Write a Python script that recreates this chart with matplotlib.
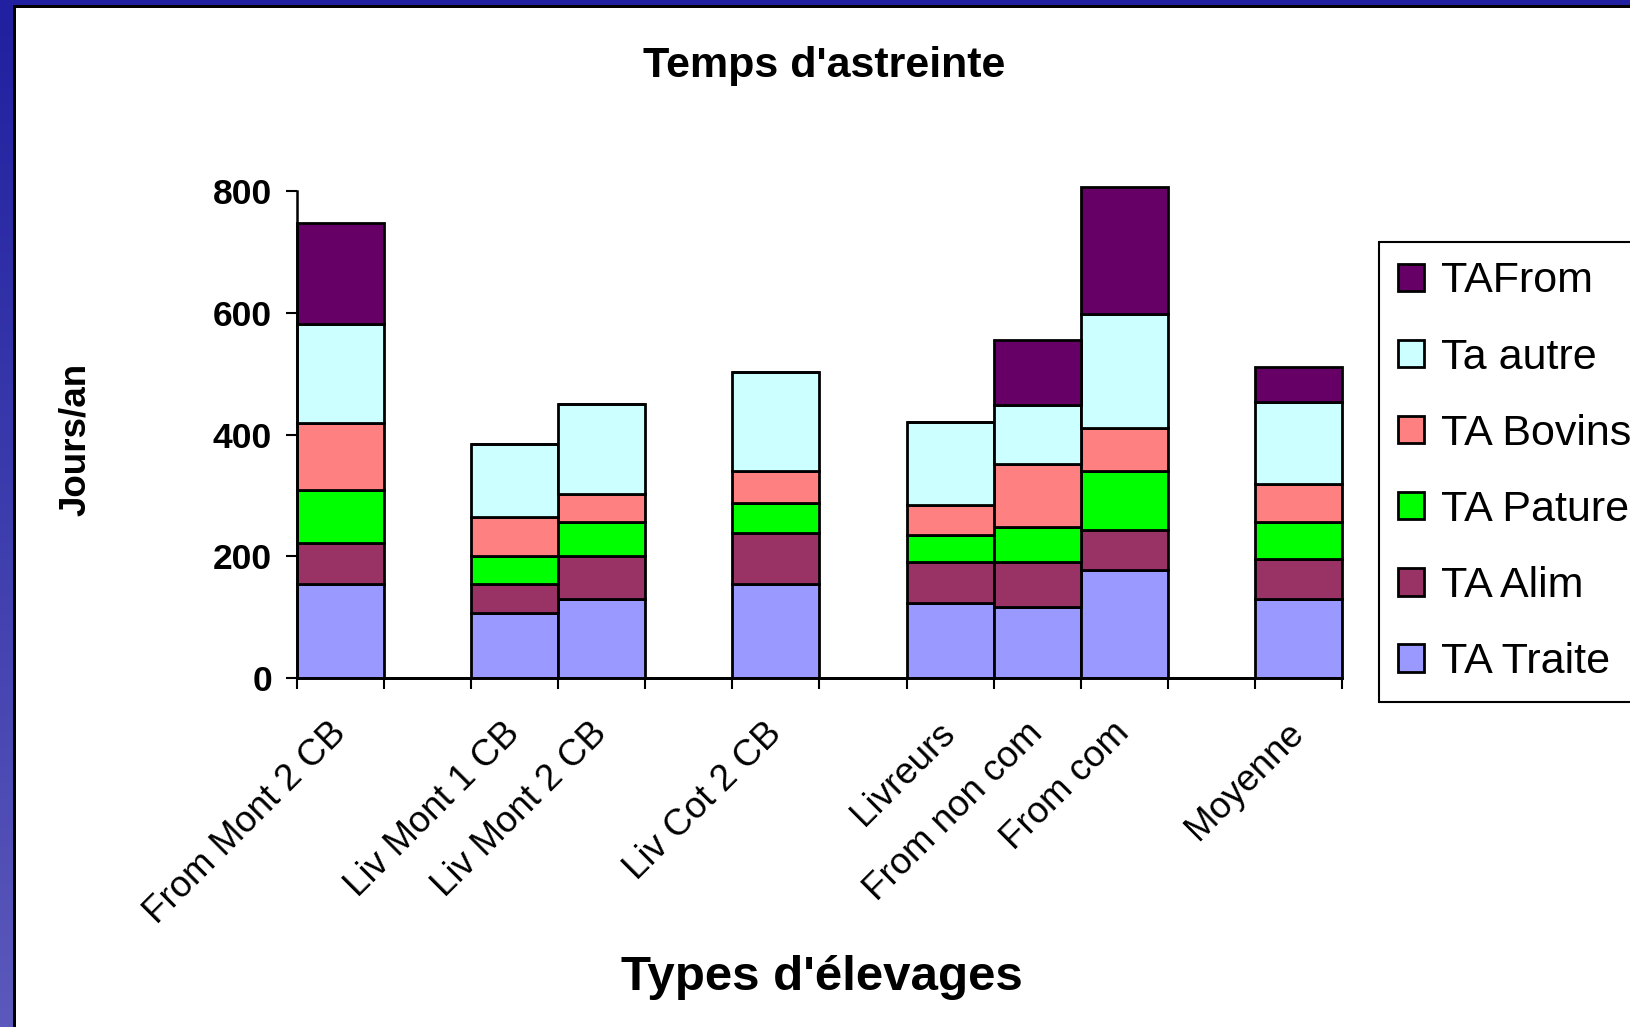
import numpy as np
import matplotlib.pyplot as plt
from matplotlib.patches import Rectangle

plt.rcParams['font.family'] = ['Liberation Sans', 'DejaVu Sans']

categories = ['From Mont 2 CB', '', 'Liv Mont 1 CB', 'Liv Mont 2 CB', '', 'Liv Cot 2 CB', '',
              'Livreurs', 'From non com', 'From com', '', 'Moyenne']

ta_traite = [155, 0, 107, 129, 0, 155, 0, 124, 116, 177, 0, 129]
ta_alim = [66, 0, 48, 71, 0, 84, 0, 67, 75, 66, 0, 66]
ta_pature = [88, 0, 45, 56, 0, 48, 0, 44, 57, 97, 0, 61]
ta_bovins = [110, 0, 65, 46, 0, 53, 0, 49, 104, 71, 0, 62]
ta_autre = [162, 0, 119, 148, 0, 163, 0, 136, 97, 187, 0, 135]
ta_from = [167, 0, 0, 0, 0, 0, 0, 0, 106, 208, 0, 58]

series = [('TA Traite', ta_traite, '#9999FF'),
          ('TA Alim', ta_alim, '#993366'),
          ('TA Pature', ta_pature, '#00FF00'),
          ('TA Bovins', ta_bovins, '#FF8080'),
          ('Ta autre', ta_autre, '#CCFFFF'),
          ('TAFrom', ta_from, '#660066')]

W, H = 1630, 1027
fig = plt.figure(figsize=(W / 100, H / 100), dpi=100)

# slide border: gradient strip on the left, flat strip on top, black inner line
gax = fig.add_axes([0, 0, 13 / W, 1])
grad = np.linspace(0, 1, 256).reshape(-1, 1)
top_c = np.array([0x20, 0x20, 0xA0]) / 255
bot_c = np.array([0x5B, 0x59, 0xBB]) / 255
img = top_c + grad[..., None] * (bot_c - top_c)
gax.imshow(img, aspect='auto', extent=[0, 1, 1, 0])
gax.set_axis_off()
fig.patches.append(Rectangle((0, 1 - 5 / H), 1, 5 / H, transform=fig.transFigure,
                             facecolor='#2020A0', edgecolor='none'))
fig.patches.append(Rectangle((13 / W, 1 - 8 / H), 1, 3 / H, transform=fig.transFigure,
                             facecolor='black', edgecolor='none'))
fig.patches.append(Rectangle((13 / W, 0), 3 / W, 1 - 5 / H, transform=fig.transFigure,
                             facecolor='black', edgecolor='none'))

ax = fig.add_axes([297 / W, 1 - 678 / H, (1342 - 297) / W, (678 - 191) / H])
x = np.arange(len(categories))
bottom = np.zeros(len(categories))
handles = []
for name, vals, col in series:
    b = ax.bar(x, vals, width=1.0, bottom=bottom, color=col, edgecolor='black',
               linewidth=2, label=name, clip_on=False)
    handles.append(b)
    bottom += np.array(vals)

ax.set_xlim(-0.5, len(categories) - 0.5)
ax.set_ylim(0, 800)
ax.set_yticks([0, 200, 400, 600, 800])
ax.tick_params(axis='y', length=8, width=1.5, pad=10, labelsize=25.5)
for t in ax.get_yticklabels():
    t.set_fontweight('bold')

ax.set_xticks(x)
ax.set_xticklabels(categories, rotation=45, ha='right', va='center',
                   rotation_mode='anchor', fontsize=26.5)
ax.tick_params(axis='x', which='major', length=0, pad=36)
ax.set_xticks(np.arange(-0.5, len(categories)), minor=True)
ax.tick_params(axis='x', which='minor', length=8, width=1.5)

for s in ['top', 'right']:
    ax.spines[s].set_visible(False)
for s in ['left', 'bottom']:
    ax.spines[s].set_linewidth(1.8)

fig.text(824 / W, 1 - 66 / H, "Temps d'astreinte", ha='center', va='center',
         fontsize=31, fontweight='bold')
fig.text(822 / W, 1 - 978 / H, "Types d'élevages", ha='center', va='center',
         fontsize=35.5, fontweight='bold')
fig.text(75 / W, 1 - 439 / H, 'Jours/an', ha='center', va='center', rotation=90,
         fontsize=26.5, fontweight='bold')

leg = fig.legend(handles[::-1], [s[0] for s in series][::-1], loc='upper left',
                 bbox_to_anchor=(1379 / W, 1 - 242 / H), borderaxespad=0,
                 fontsize=31, handlelength=0.6, handleheight=0.6, handletextpad=0.4,
                 labelspacing=0.84, borderpad=0.45, fancybox=False, edgecolor='black',
                 framealpha=1)
leg.get_frame().set_linewidth(1.5)

fig.savefig('out.png', dpi=100)
